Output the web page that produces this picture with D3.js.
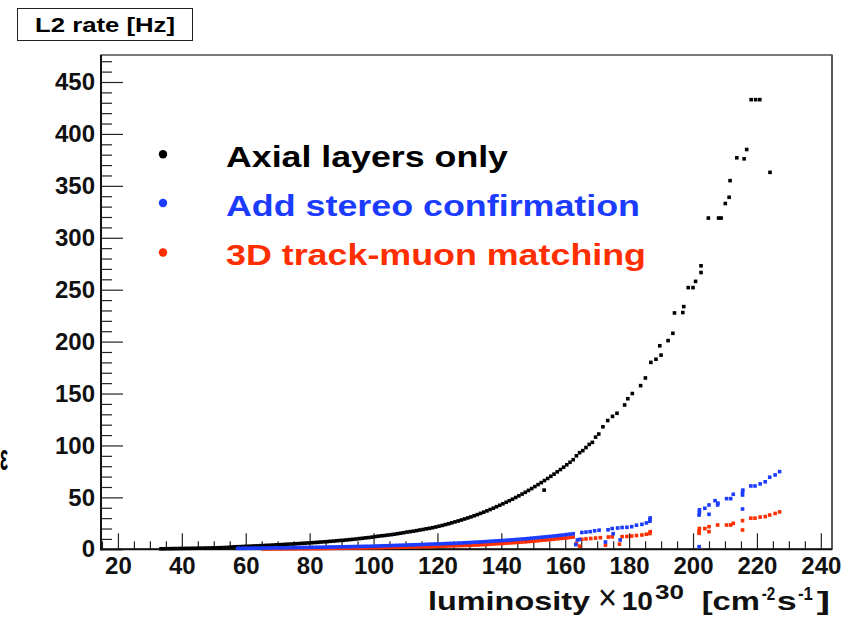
<!DOCTYPE html>
<html>
<head>
<meta charset="utf-8">
<script src="https://cdn.jsdelivr.net/npm/d3@7"></script>
<style>
body { margin: 0; background: #fff; }
svg { display: block; }
text { font-family: "Liberation Sans", Arial, Helvetica, sans-serif; font-weight: bold; }
</style>
</head>
<body>
<svg width="855" height="624"></svg>
<script>
// L2 rate [Hz] vs luminosity: [luminosity, rate]
var axial = [
  [33.5,0.5],[34.5,0.5],[35.5,0.6],[36.5,0.6],[37.5,0.7],[38.5,0.7],[39.5,0.8],[40.5,0.8],[41.5,0.9],[42.5,0.9],
  [43.5,1.0],[44.5,1.0],[45.5,1.1],[46.5,1.1],[47.5,1.2],[48.5,1.3],[49.5,1.4],[50.5,1.4],[51.5,1.5],[52.5,1.6],
  [53.5,1.7],[54.5,1.9],[55.5,2.2],[56.5,2.4],[57.5,2.5],[58.5,2.6],[59.5,2.8],[60.5,2.9],[61.5,3.0],[62.5,3.2],
  [63.5,3.3],[64.5,3.5],[65.5,3.6],[66.5,3.8],[67.5,3.9],[68.5,4.1],[69.5,4.3],[70.5,4.4],[71.5,4.6],[72.5,4.8],
  [73.5,5.0],[74.5,5.1],[75.5,5.3],[76.5,5.5],[77.5,5.7],[78.5,5.9],[79.5,6.1],[80.5,6.3],[81.5,6.5],[82.5,6.7],
  [83.5,7.0],[84.5,7.2],[85.5,7.4],[86.5,7.7],[87.5,7.9],[88.5,8.2],[89.5,8.5],[90.5,8.7],[91.5,9.0],[92.5,9.3],
  [93.5,9.6],[94.5,9.9],[95.5,10.3],[96.5,10.6],[97.5,11.0],[98.5,11.3],[99.5,11.7],
  [100.5,12.2],[101.5,12.6],[102.5,13.0],[103.5,13.3],[104.5,13.7],[105.5,14.1],[106.5,14.5],[107.5,15.0],[108.5,15.5],[109.5,16.0],
  [110.5,16.6],[111.5,17.0],[112.5,17.5],[113.5,18.0],[114.5,18.6],[115.5,19.1],[116.5,19.7],[117.5,20.2],[118.5,20.8],[119.5,21.5],
  [120.5,22.2],[121.5,23.0],[122.5,23.8],[123.5,24.6],[124.5,25.5],[125.5,26.4],[126.5,27.3],[127.5,28.2],[128.5,29.2],[129.5,30.2],
  [130.5,31.2],[131.5,32.3],[132.5,33.4],[133.5,34.6],[134.5,35.8],[135.5,37.0],[136.5,38.3],[137.5,39.6],[138.5,41.0],[139.5,42.4],
  [140.5,43.8],[141.5,45.3],[142.5,46.8],[143.5,48.3],[144.5,49.9],[145.5,51.5],[146.5,53.2],[147.5,54.9],[148.5,56.7],[149.5,58.5],
  [150.5,60.4],[151.5,62.3],[152.5,64.2],[153.4,57.0],[153.5,66.2],[154.5,68.2],[155.5,70.3],[156.5,72.4],[157.5,74.6],[158.5,76.8],
  [159.5,79.1],[160.5,81.4],[161.5,83.8],[162.5,86.3],[163.5,90.0],[164.5,93.0],[165.5,95.0],[166.5,98.0],[167.5,101.0],[168.5,103.0],
  [169.5,108.0],[170.5,111.0],
  [171.8,118],[173.3,124],[174.8,128],[176.2,131],[178.6,139],[179.6,145],[181.0,150],[183.6,157.6],[185.1,165],
  [186.8,180],[188.4,183],[190.0,187],[189.6,196],[192.2,201],[193.7,208],[194.2,227.6],[196.8,228],[197.1,233.7],
  [198.5,252],[200.0,252],[200.8,258],[202.5,266.5],[202.5,273],[204.8,319],[208.0,319],[208.8,319],[210.1,333],
  [211.3,339],[211.6,355],[213.7,377],[216.0,376],[216.8,385],[218.2,433],[219.6,433],[220.9,433],[224.1,363]
];

var stereo = [
  [57.5,0.9],[58.5,0.9],[59.5,1.0],[60.5,1.0],[61.5,1.0],[62.5,1.1],[63.5,1.1],[64.5,1.1],[65.5,1.2],[66.5,1.2],
  [67.5,1.3],[68.5,1.3],[69.5,1.4],[70.5,1.4],[71.5,1.4],[72.5,1.5],[73.5,1.5],[74.5,1.6],[75.5,1.6],[76.5,1.7],
  [77.5,1.7],[78.5,1.8],[79.5,1.8],[80.5,1.9],[81.5,1.9],[82.5,2.0],[83.5,2.0],[84.5,2.1],[85.5,2.1],[86.5,2.2],
  [87.5,2.2],[88.5,2.3],[89.5,2.4],[90.5,2.4],[91.5,2.5],[92.5,2.5],[93.5,2.6],[94.5,2.7],[95.5,2.7],[96.5,2.8],
  [97.5,2.9],[98.5,2.9],[99.5,3.0],[100.5,3.1],[101.5,3.2],[102.5,3.3],[103.5,3.4],[104.5,3.5],[105.5,3.6],[106.5,3.7],
  [107.5,3.8],[108.5,3.9],[109.5,4.0],[110.5,4.1],[111.5,4.2],[112.5,4.3],[113.5,4.4],[114.5,4.5],[115.5,4.6],[116.5,4.8],
  [117.5,4.9],[118.5,5.0],[119.5,5.1],[120.5,5.2],[121.5,5.3],[122.5,5.5],[123.5,5.6],[124.5,5.7],[125.5,5.8],[126.5,6.0],
  [127.5,6.1],[128.5,6.3],[129.5,6.4],[130.5,6.6],[131.5,6.8],[132.5,6.9],[133.5,7.1],[134.5,7.3],[135.5,7.5],[136.5,7.7],
  [137.5,7.9],[138.5,8.1],[139.5,8.3],[140.5,8.5],[141.5,8.7],[142.5,8.9],[143.5,9.1],[144.5,9.4],[145.5,9.6],[146.5,9.9],
  [147.5,10.1],[148.5,10.4],[149.5,10.7],[150.5,11.0],[151.5,11.3],[152.5,11.6],[153.5,11.9],[154.5,12.2],[155.5,12.5],[156.5,12.8],
  [157.5,13.1],[158.5,13.5],[159.5,13.8],[160.5,14.2],[161.5,14.6],[162.5,15.0],
  [163.3,4.5],[163.8,9.0],[164.5,9.5],[165.2,16.2],[166.5,16.6],[167.8,17.0],[169.2,17.8],[170.6,18.4],[172.6,7.0],
  [173.4,18.8],[174.7,20.0],[175.0,15.0],[176.4,20.5],[177.2,9.0],[177.8,21.0],[179.3,21.2],[180.8,21.8],[182.3,23.2],
  [184.0,24.0],[185.4,25.4],[186.5,27.0],[186.5,28.6],[186.6,30.2],
  [201.9,2.5],[201.9,33.0],[202.0,35.5],[202.0,38.0],[203.7,39.5],[205.0,42.7],[205.0,33.7],[206.9,46.8],[207.7,42.7],
  [207.8,44.5],[210.5,48.8],[211.8,48.8],[212.6,53.0],[215.5,52.3],[215.5,54.7],[215.6,57.0],[215.5,38.8],[218.1,61.0],
  [219.4,61.0],[221.0,63.0],[222.6,65.0],[224.0,69.4],[225.7,71.6],[227.1,74.8]
];

var matched = [
  [65.5,0.3],[66.5,0.3],[67.5,0.3],[68.5,0.4],[69.5,0.4],[70.5,0.4],[71.5,0.4],[72.5,0.5],[73.5,0.5],[74.5,0.5],
  [75.5,0.5],[76.5,0.6],[77.5,0.6],[78.5,0.6],[79.5,0.6],[80.5,0.7],[81.5,0.7],[82.5,0.7],[83.5,0.8],[84.5,0.8],
  [85.5,0.8],[86.5,0.9],[87.5,0.9],[88.5,1.0],[89.5,1.0],[90.5,1.0],[91.5,1.1],[92.5,1.1],[93.5,1.2],[94.5,1.2],
  [95.5,1.3],[96.5,1.3],[97.5,1.4],[98.5,1.4],[99.5,1.5],[100.5,1.5],[101.5,1.6],[102.5,1.6],[103.5,1.7],[104.5,1.8],
  [105.5,1.8],[106.5,1.9],[107.5,1.9],[108.5,2.0],[109.5,2.1],[110.5,2.1],[111.5,2.2],[112.5,2.3],[113.5,2.3],[114.5,2.4],
  [115.5,2.5],[116.5,2.6],[117.5,2.6],[118.5,2.7],[119.5,2.8],[120.5,2.9],[121.5,3.0],[122.5,3.1],[123.5,3.2],[124.5,3.3],
  [125.5,3.4],[126.5,3.5],[127.5,3.6],[128.5,3.7],[129.5,3.8],[130.5,3.9],[131.5,4.1],[132.5,4.2],[133.5,4.4],[134.5,4.5],
  [135.5,4.7],[136.5,4.9],[137.5,5.1],[138.5,5.3],[139.5,5.5],[140.5,5.7],[141.5,5.9],[142.5,6.1],[143.5,6.3],[144.5,6.5],
  [145.5,6.8],[146.5,7.0],[147.5,7.2],[148.5,7.5],[149.5,7.7],[150.5,8.0],[151.5,8.3],[152.5,8.6],[153.5,8.9],[154.5,9.2],
  [155.5,9.5],[156.5,9.8],[157.5,10.1],[158.5,10.4],[159.5,10.7],[160.5,11.0],[161.5,11.4],[162.5,11.8],
  [163.5,5.8],[164.5,3.0],[165.2,9.6],[166.5,10.0],[168.0,10.4],[169.5,10.8],[171.0,11.2],[172.6,4.0],[173.5,11.8],
  [174.7,12.0],[177.0,5.0],[177.8,12.2],[179.3,12.4],[180.8,12.8],[182.3,13.3],[184.0,13.8],[185.4,14.5],[186.5,15.2],[186.6,17.0],
  [201.9,15.4],[201.9,17.8],[202.0,20.0],[203.7,20.0],[205.0,21.8],[205.0,17.0],[207.7,23.4],[210.5,23.4],[211.8,23.4],
  [212.6,25.0],[215.5,27.6],[215.5,18.6],[218.1,30.0],[219.4,30.0],[221.0,31.0],[222.6,31.5],[224.0,33.0],[225.7,34.5],[227.1,36.0]
];

var seriesNames = ["Axial layers only", "Add stereo confirmation", "3D track-muon matching"];
var seriesColors = ["#000000", "#1b3bff", "#ff2e00"];
var xTicks = [20, 40, 60, 80, 100, 120, 140, 160, 180, 200, 220, 240];
var yTicks = [0, 50, 100, 150, 200, 250, 300, 350, 400, 450];

var svg = d3.select('svg');

var x = d3.scaleLinear().domain([14.7, 243.5]).range([101, 832]);
var y = d3.scaleLinear().domain([0, 476]).range([549.3, 55]);

// frame
svg.append('rect')
  .attr('x', 101).attr('y', 55)
  .attr('width', 731).attr('height', 494.3)
  .attr('fill', 'none').attr('stroke', '#222').attr('stroke-width', 1.2);
svg.append('line').attr('x1', 832).attr('x2', 832).attr('y1', 55).attr('y2', 549.3)
  .attr('stroke', '#555').attr('stroke-width', 1.8);

// minor ticks: every 10 on y, every 5 on x
var yMinor = d3.range(0, 471, 10).filter(function(v) { return v % 50 !== 0; });
var xMinor = d3.range(15, 241, 5).filter(function(v) { return v % 20 !== 0; });

svg.append('g').attr('transform', 'translate(101,0)')
  .call(d3.axisLeft(y).tickValues(yMinor).tickSize(-11).tickFormat(''))
  .call(function(g) { g.select('.domain').remove(); });
var yAxis = svg.append('g').attr('transform', 'translate(101,0)')
  .call(d3.axisLeft(y).tickValues(yTicks).tickSize(-22).tickPadding(6))
  .call(function(g) { g.select('.domain').remove(); });

svg.append('g').attr('transform', 'translate(0,549.3)')
  .call(d3.axisBottom(x).tickValues(xMinor).tickSize(-8).tickFormat(''))
  .call(function(g) { g.select('.domain').remove(); });
var xAxis = svg.append('g').attr('transform', 'translate(0,549.3)')
  .call(d3.axisBottom(x).tickValues(xTicks).tickSize(-16).tickPadding(8))
  .call(function(g) { g.select('.domain').remove(); });

svg.selectAll('.tick line').attr('stroke', '#222').attr('stroke-width', 1.2);
[xAxis, yAxis].forEach(function(g) {
  g.attr('font-family', null).attr('font-size', null);
  g.selectAll('text').attr('font-size', 24).attr('fill', '#111');
});

// thick axis lines
svg.append('line').attr('x1', 101).attr('x2', 101).attr('y1', 55).attr('y2', 550.3)
  .attr('stroke', '#111').attr('stroke-width', 2);
svg.append('line').attr('x1', 100).attr('x2', 832).attr('y1', 549.3).attr('y2', 549.3)
  .attr('stroke', '#111').attr('stroke-width', 2);

// markers: black first, then red, blue on top
var ms = 3.6;
var drawOrder = [[axial, 0], [matched, 2], [stereo, 1]];
drawOrder.forEach(function(s) {
  svg.append('g').selectAll('rect')
    .data(s[0])
    .enter()
    .append('rect')
    .attr('x', function(d) { return x(d[0]) - ms / 2; })
    .attr('y', function(d) { return y(d[1]) - ms / 2; })
    .attr('width', ms)
    .attr('height', ms)
    .attr('fill', seriesColors[s[1]]);
});

// legend
var legendY = [166.7, 215.5, 265];
var legendW = [282, 414, 420];
seriesNames.forEach(function(name, i) {
  svg.append('circle').attr('cx', 163).attr('cy', legendY[i] - 12.5).attr('r', 4.2)
    .attr('fill', seriesColors[i]);
  svg.append('text').attr('x', 226).attr('y', legendY[i])
    .attr('font-size', 30)
    .attr('textLength', legendW[i]).attr('lengthAdjust', 'spacingAndGlyphs')
    .attr('fill', seriesColors[i])
    .text(name);
});

// y title box
svg.append('rect').attr('x', 17.5).attr('y', 8.5).attr('width', 175).attr('height', 32)
  .attr('fill', '#fff').attr('stroke', '#222').attr('stroke-width', 1);
svg.append('text').attr('x', 35).attr('y', 31.5).attr('font-size', 20.5)
  .attr('textLength', 140).attr('lengthAdjust', 'spacingAndGlyphs')
  .text('L2 rate [Hz]');

// narrow glyph at the left edge
svg.append('text').attr('x', 0).attr('y', 470).attr('font-size', 36)
  .attr('textLength', 8).attr('lengthAdjust', 'spacingAndGlyphs').text('ε');

// x title, pieces placed separately
var xTitle = [
  { t: 'luminosity', x: 428, y: 610, s: 26, w: 162 },
  { t: '×', x: 598, y: 610, s: 36, w: 19, normal: true },
  { t: '10', x: 621.7, y: 610, s: 26, w: 31.3 },
  { t: '30', x: 655, y: 599, s: 20, w: 29 },
  { t: '[cm', x: 701.7, y: 610, s: 26, w: 58.3 },
  { t: '-2', x: 761.7, y: 600, s: 19, w: 13.5 },
  { t: 's', x: 776.7, y: 610, s: 26, w: 20 },
  { t: '-1', x: 798, y: 600, s: 19, w: 15 },
  { t: ']', x: 816.7, y: 610, s: 26, w: 13.3 }
];
svg.append('g').selectAll('text')
  .data(xTitle)
  .enter()
  .append('text')
  .attr('x', function(d) { return d.x; })
  .attr('y', function(d) { return d.y; })
  .attr('font-size', function(d) { return d.s; })
  .style('font-weight', function(d) { return d.normal ? 'normal' : 'bold'; })
  .attr('textLength', function(d) { return d.w; })
  .attr('lengthAdjust', 'spacingAndGlyphs')
  .attr('fill', '#111')
  .text(function(d) { return d.t; });
</script>
</body>
</html>
